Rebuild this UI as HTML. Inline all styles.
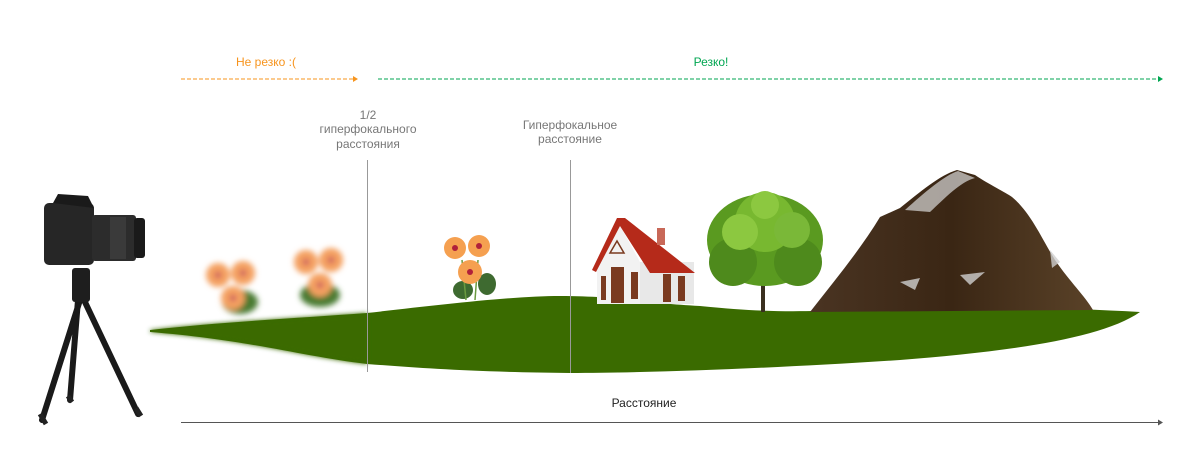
<!DOCTYPE html>
<html><head><meta charset="utf-8"><style>
html,body{margin:0;padding:0;background:#fff;width:1200px;height:470px;overflow:hidden}
svg{display:block}
text{font-family:"Liberation Sans",sans-serif;font-size:12px}
</style></head><body>
<svg width="1200" height="470" viewBox="0 0 1200 470" xmlns="http://www.w3.org/2000/svg">
<defs>
<filter id="b3" x="-20%" y="-50%" width="140%" height="200%"><feGaussianBlur stdDeviation="3"/></filter>
<filter id="b2"><feGaussianBlur stdDeviation="2.5"/></filter>
<linearGradient id="mg" x1="0" y1="0" x2="1" y2="0"><stop offset="0" stop-color="#4a3422"/><stop offset="0.5" stop-color="#3a2614"/><stop offset="1" stop-color="#5a4228"/></linearGradient>
</defs>
<text x="266" y="66" fill="#f7941d" text-anchor="middle">Не резко :(</text>
<line x1="181" y1="79" x2="354" y2="79" stroke="#f7941d" stroke-width="1" stroke-dasharray="4,2"/>
<path d="M353,76 L358,79 L353,82Z" fill="#f7941d"/>
<text x="711" y="66" fill="#00a651" text-anchor="middle">Резко!</text>
<line x1="378" y1="79" x2="1160" y2="79" stroke="#00a651" stroke-width="1" stroke-dasharray="4,2"/>
<path d="M1158,76 L1163,79 L1158,82Z" fill="#00a651"/>
<g fill="#777" text-anchor="middle">
<text x="368" y="119">1/2</text>
<text x="368" y="133">гиперфокального</text>
<text x="368" y="148">расстояния</text>
<text x="570" y="129">Гиперфокальное</text>
<text x="570" y="143">расстояние</text>
</g>
<path d="M150,330 C220,322 300,318 367,313 C430,306 510,296 560,296 C620,296 640,303 700,306 C760,312 790,312 850,310 C950,306 1050,307 1140,312 C1100,340 1000,352 900,360 C780,368 650,373 570,373 C470,372 420,368 367,364 C300,356 250,340 150,332Z" fill="#3a6b00"/>
<path d="M150,330 C220,322 300,318 367,313 L367,364 C300,356 250,340 150,332Z" fill="#3a6b00" filter="url(#b2)"/>
<g filter="url(#b3)">
<ellipse cx="240" cy="302" rx="18" ry="12" fill="#4a7a30"/>
<circle cx="218" cy="275" r="12" fill="#f4a060"/><circle cx="243" cy="273" r="12" fill="#f4a060"/><circle cx="233" cy="298" r="12" fill="#f4a060"/>
<circle cx="218" cy="275" r="3" fill="#c04060"/><circle cx="243" cy="273" r="3" fill="#c04060"/><circle cx="233" cy="298" r="3" fill="#c04060"/>
<ellipse cx="320" cy="295" rx="20" ry="12" fill="#4a7a30"/>
<circle cx="306" cy="262" r="12" fill="#f4a060"/><circle cx="331" cy="260" r="12" fill="#f4a060"/><circle cx="320" cy="285" r="12" fill="#f4a060"/>
<circle cx="306" cy="262" r="3" fill="#c04060"/><circle cx="331" cy="260" r="3" fill="#c04060"/><circle cx="320" cy="285" r="3" fill="#c04060"/>
</g>
<g>
<ellipse cx="463" cy="290" rx="10" ry="9" fill="#3e6a30"/><ellipse cx="487" cy="284" rx="9" ry="11" fill="#3e6a30"/>
<path d="M462,260 L466,300 M478,260 L475,300" stroke="#6a9a40" stroke-width="1.5"/>
<circle cx="455" cy="248" r="11" fill="#f5a050"/><circle cx="479" cy="246" r="11" fill="#f5a050"/><circle cx="470" cy="272" r="12" fill="#f5a050"/>
<circle cx="455" cy="248" r="3" fill="#b0203a"/><circle cx="479" cy="246" r="3" fill="#b0203a"/><circle cx="470" cy="272" r="3" fill="#b0203a"/>
</g>
<line x1="367.5" y1="160" x2="367.5" y2="372" stroke="#999" stroke-width="1"/>
<line x1="570.5" y1="160" x2="570.5" y2="373" stroke="#999" stroke-width="1"/>
<g>
<path d="M597,270 L617,220 L640,262 L640,304 L597,304Z" fill="#f2f2f2"/>
<rect x="640" y="262" width="54" height="42" fill="#e8e8e8"/>
<path d="M592,270 L617,218 L625,218 L695,273 L650,273 L620,226 L596,272Z" fill="#b52a1a"/>
<rect x="657" y="228" width="8" height="17" fill="#c86858"/>
<path d="M610,253 L617,241 L624,253Z" fill="none" stroke="#7a3a20" stroke-width="1.5"/>
<rect x="611" y="267" width="13" height="36" fill="#7a3a20"/>
<rect x="601" y="276" width="5" height="24" fill="#7a3a20"/><rect x="631" y="272" width="7" height="27" fill="#7a3a20"/>
<rect x="663" y="274" width="8" height="28" fill="#7a3a20"/><rect x="678" y="276" width="7" height="25" fill="#7a3a20"/>
</g>
<g>
<path d="M763,312 L763,283 L748,266 M765,283 L782,264" stroke="#3a3020" stroke-width="4" fill="none"/>
<ellipse cx="765" cy="240" rx="58" ry="46" fill="#5a9a20"/>
<circle cx="733" cy="262" r="24" fill="#4e8a1c"/><circle cx="798" cy="262" r="24" fill="#4e8a1c"/>
<circle cx="765" cy="222" r="30" fill="#78b830"/><circle cx="740" cy="232" r="18" fill="#8cc840"/><circle cx="792" cy="230" r="18" fill="#7ab838"/><circle cx="765" cy="205" r="14" fill="#8cc840"/>
</g>
<g>
<path d="M810,312 C835,280 860,250 880,217 L900,208 C920,192 940,175 957,170 L975,175 C990,185 1005,192 1012,197 C1030,212 1040,235 1055,260 C1070,282 1085,296 1093,310Z" fill="url(#mg)"/>
<path d="M905,210 C925,192 945,175 958,171 L975,178 C960,182 945,198 930,212Z" fill="#d8d8d8" opacity="0.7"/>
<path d="M900,282 L920,278 L915,290Z M960,275 L985,272 L970,285Z M1050,250 L1060,262 L1052,268Z" fill="#cfcfcf" opacity="0.8"/>
</g>
<g>
<path d="M80,300 L42,420 M78,300 L70,400 M84,300 L138,414" stroke="#1a1a1a" stroke-width="6" stroke-linecap="round"/>
<path d="M40,414 L46,424 M136,408 L141,416 M68,396 L72,402" stroke="#222" stroke-width="5"/>
<rect x="72" y="268" width="18" height="34" rx="3" fill="#1e1e1e"/>
<rect x="44" y="203" width="50" height="62" rx="5" fill="#262626"/>
<path d="M53,203 L58,194 L88,196 L94,208Z" fill="#1a1a1a"/>
<rect x="92" y="215" width="44" height="46" rx="3" fill="#2c2c2c"/>
<rect x="134" y="218" width="11" height="40" rx="3" fill="#1a1a1a"/>
<rect x="110" y="217" width="16" height="42" fill="#3a3a3a"/>
</g>
<text x="644" y="407" fill="#222" text-anchor="middle">Расстояние</text>
<line x1="181" y1="422.5" x2="1160" y2="422.5" stroke="#555" stroke-width="1"/>
<path d="M1158,419.5 L1163,422.5 L1158,425.5Z" fill="#555"/>
</svg>
</body></html>
